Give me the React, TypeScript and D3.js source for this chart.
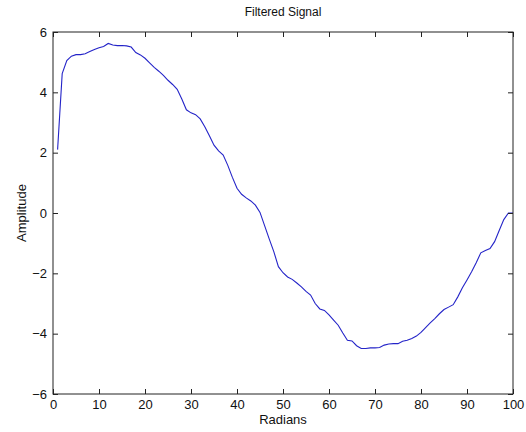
import { useEffect, useRef } from 'react';
import * as d3 from 'd3';

// values, one per radian step
const RADIANS = [
  1, 2, 3, 4, 5, 6, 7, 8, 9, 10, 11, 12, 13, 14, 15, 16, 17, 18, 19, 20,
  21, 22, 23, 24, 25, 26, 27, 28, 29, 30, 31, 32, 33, 34, 35, 36, 37, 38, 39, 40,
  41, 42, 43, 44, 45, 46, 47, 48, 49, 50, 51, 52, 53, 54, 55, 56, 57, 58, 59, 60,
  61, 62, 63, 64, 65, 66, 67, 68, 69, 70, 71, 72, 73, 74, 75, 76, 77, 78, 79, 80,
  81, 82, 83, 84, 85, 86, 87, 88, 89, 90, 91, 92, 93, 94, 95, 96, 97, 98, 99, 100,
];
const AMPLITUDE = [
  2.10, 4.62, 5.05, 5.20, 5.25, 5.25, 5.28, 5.35, 5.42, 5.48,
  5.52, 5.62, 5.57, 5.55, 5.55, 5.54, 5.50, 5.32, 5.24, 5.13,
  4.98, 4.83, 4.70, 4.56, 4.40, 4.26, 4.10, 3.78, 3.42, 3.32,
  3.26, 3.12, 2.86, 2.56, 2.25, 2.06, 1.92, 1.58, 1.18, 0.82,
  0.62, 0.50, 0.40, 0.26, 0.02, -0.42, -0.86, -1.28, -1.78, -1.98,
  -2.12, -2.20, -2.32, -2.45, -2.60, -2.72, -3.00, -3.18, -3.23, -3.38,
  -3.55, -3.72, -3.98, -4.22, -4.24, -4.40, -4.49, -4.49, -4.47, -4.47,
  -4.46, -4.38, -4.34, -4.33, -4.33, -4.25, -4.22, -4.16, -4.08, -3.96,
  -3.80, -3.64, -3.50, -3.34, -3.20, -3.12, -3.04, -2.78, -2.48, -2.22,
  -1.95, -1.65, -1.32, -1.24, -1.18, -0.95, -0.58, -0.22, 0.00, 0.00,
];
const X_TICKS = [0, 10, 20, 30, 40, 50, 60, 70, 80, 90, 100];
const Y_TICKS = [-6, -4, -2, 0, 2, 4, 6];

const W = 526;
const H = 432;
const FONT = '"Liberation Sans", Arial, Helvetica, sans-serif';

export default function App() {
  const svgRef = useRef<SVGSVGElement>(null);

  useEffect(() => {
    if (!svgRef.current) return;
    const m = { left: 53, right: 513, top: 32, bottom: 394 };

    const svg = d3.select(svgRef.current);
    svg.selectAll('*').remove();

    const x = d3.scaleLinear().domain([0, 100]).range([m.left, m.right]);
    const y = d3.scaleLinear().domain([-6, 6]).range([m.bottom, m.top]);

    svg.append('rect').attr('width', W).attr('height', H).attr('fill', '#fff');

    const line = d3.line<number>()
      .x((_, i) => x(RADIANS[i]))
      .y(d => y(d));

    svg.append('path')
      .datum(AMPLITUDE)
      .attr('d', line)
      .attr('fill', 'none')
      .attr('stroke', '#2424c8')
      .attr('stroke-width', 1.1);

    // MATLAB-style inward ticks on all four sides
    const bottom = svg.append('g')
      .attr('transform', `translate(0,${m.bottom})`)
      .call(d3.axisBottom(x).tickValues(X_TICKS).tickSize(-5).tickPadding(6));
    const left = svg.append('g')
      .attr('transform', `translate(${m.left},0)`)
      .call(d3.axisLeft(y).tickValues(Y_TICKS).tickSize(-5).tickPadding(6));
    svg.append('g')
      .attr('transform', `translate(0,${m.top})`)
      .call(d3.axisTop(x).tickValues(X_TICKS).tickSize(-5).tickFormat(() => ''));
    svg.append('g')
      .attr('transform', `translate(${m.right},0)`)
      .call(d3.axisRight(y).tickValues(Y_TICKS).tickSize(-5).tickFormat(() => ''));

    svg.selectAll('.domain').remove();
    svg.selectAll('.tick line').attr('stroke', '#222');
    [bottom, left].forEach(g => g.selectAll('text')
      .attr('fill', '#111')
      .style('font-family', FONT)
      .style('font-size', '13px'));

    svg.append('rect')
      .attr('x', m.left).attr('y', m.top)
      .attr('width', m.right - m.left).attr('height', m.bottom - m.top)
      .attr('fill', 'none').attr('stroke', '#222').attr('stroke-width', 1);

    svg.append('text')
      .attr('x', (m.left + m.right) / 2).attr('y', 16)
      .attr('text-anchor', 'middle')
      .style('font-family', FONT).style('font-size', '12px')
      .attr('fill', '#111')
      .text('Filtered Signal');

    svg.append('text')
      .attr('x', (m.left + m.right) / 2).attr('y', 424)
      .attr('text-anchor', 'middle')
      .style('font-family', FONT).style('font-size', '13px')
      .attr('fill', '#111')
      .text('Radians');

    svg.append('text')
      .attr('transform', `translate(26,${(m.top + m.bottom) / 2}) rotate(-90)`)
      .attr('text-anchor', 'middle')
      .style('font-family', FONT).style('font-size', '13px')
      .attr('fill', '#111')
      .text('Amplitude');
  }, []);

  return (
    <div style={{ position: 'absolute', left: 0, top: 0, width: W, height: H, background: '#fff' }}>
      <svg ref={svgRef} width={W} height={H} style={{ display: 'block' }} />
    </div>
  );
}
